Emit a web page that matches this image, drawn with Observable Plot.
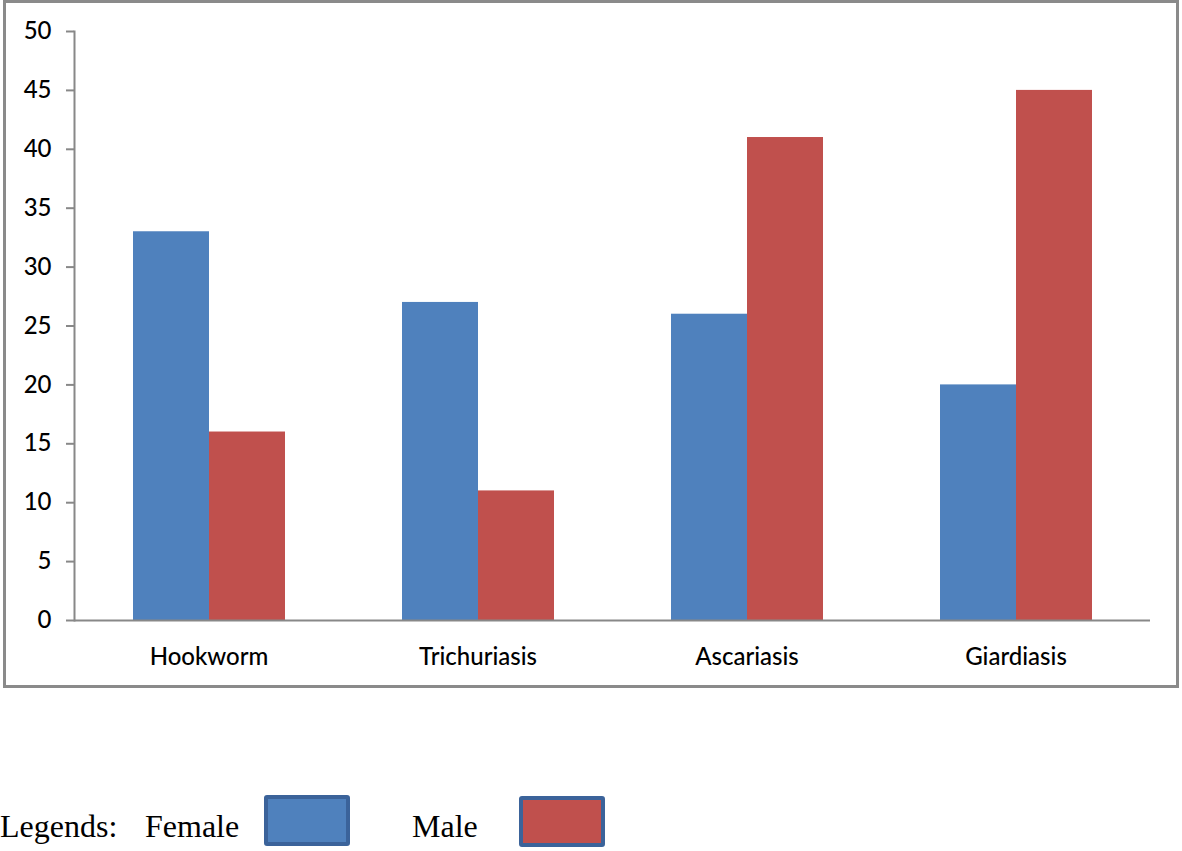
<!DOCTYPE html>
<html><head><meta charset="utf-8">
<script src="https://cdn.jsdelivr.net/npm/d3@7"></script>
<script src="https://cdn.jsdelivr.net/npm/@observablehq/plot@0.6"></script>
<style>
body{margin:0;background:#fff;width:1182px;height:851px;position:relative;overflow:hidden}
#box{position:absolute;left:3px;top:0;border:3px solid #8a8a8a;width:1170px;height:682px}
#box svg{display:block}
.lg{position:absolute;font-family:"Liberation Serif","Times New Roman",serif;font-size:32px;color:#000;line-height:1;white-space:nowrap}
.sw{position:absolute;box-sizing:border-box;border:4px solid #3b639a;border-radius:3px}
</style></head><body>
<div id="box"></div>
<div id="legend"></div>
<script>
const categories = ["Hookworm", "Trichuriasis", "Ascariasis", "Giardiasis"];
const series = ["Female", "Male"];
const female = [33, 27, 26, 20];
const male = [16, 11, 41, 45];
const yTicks = [0, 5, 10, 15, 20, 25, 30, 35, 40, 45, 50];
const colors = ["#4F81BD", "#C0504D"];

const rows = categories.flatMap((c, i) => [
  {category: c, sex: series[0], value: female[i]},
  {category: c, sex: series[1], value: male[i]}
]);

const chart = Plot.plot({
  width: 1170,
  height: 682,
  marginLeft: 67,
  marginRight: 25,
  marginTop: 28,
  marginBottom: 65,
  style: {fontFamily: "Lato, 'Open Sans', sans-serif", fontSize: "24px", fontWeight: 500, color: "#000", background: "#fff"},
  fx: {domain: categories, padding: 0, label: null},
  x: {domain: series, paddingInner: 0, paddingOuter: 0.75, axis: null},
  y: {domain: [0, 50], label: null},
  color: {domain: series, range: colors},
  marks: [
    Plot.barY(rows, {fx: "category", x: "sex", y: "value", fill: "sex"}),
    Plot.ruleY([0], {stroke: "#888", strokeWidth: 2}),
    Plot.frame({anchor: "left", facetAnchor: "left", stroke: "#888", strokeWidth: 2}),
    Plot.axisY({ticks: yTicks, tickSize: 8, tickPadding: 15, stroke: "#888", fill: "#000", strokeWidth: 2, label: null, fontSize: 24, fontWeight: 500}),
    Plot.axisFx({anchor: "bottom", tickSize: 0, tickPadding: 27, label: null, fontSize: 24, fontWeight: 500})
  ]
});
document.getElementById("box").appendChild(chart);

const legend = document.getElementById("legend");
function addText(t, left, top) {
  const d = document.createElement("div");
  d.className = "lg"; d.textContent = t;
  d.style.left = left + "px"; d.style.top = top + "px";
  legend.appendChild(d);
}
function addSwatch(col, left, top) {
  const d = document.createElement("div");
  d.className = "sw"; d.style.background = col;
  d.style.left = left + "px"; d.style.top = top + "px";
  d.style.width = "86px"; d.style.height = "51px";
  legend.appendChild(d);
}
addText("Legends:", 0, 810);
addText(series[0], 145, 810);
addSwatch(colors[0], 264, 795);
addText(series[1], 412, 810);
addSwatch(colors[1], 519, 796);
</script>
</body></html>
